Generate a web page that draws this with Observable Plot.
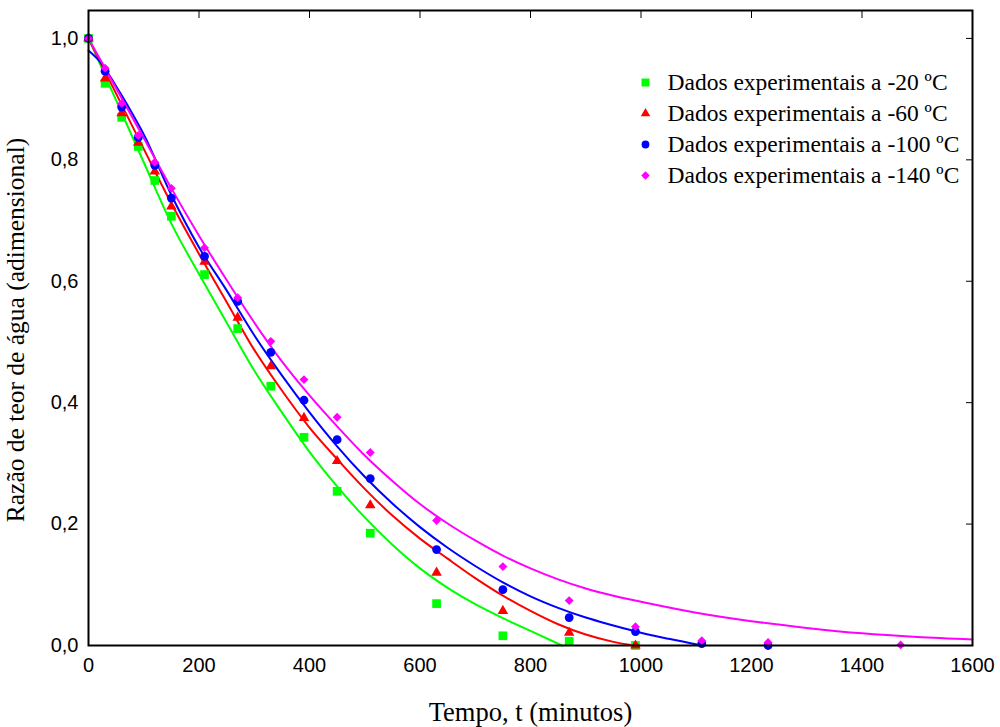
<!DOCTYPE html>
<html><head><meta charset="utf-8">
<script src="https://cdn.jsdelivr.net/npm/d3@7"></script>
<script src="https://cdn.jsdelivr.net/npm/@observablehq/plot@0.6"></script>
<style>body{margin:0;background:#fff}</style>
</head><body><div id="chart"></div>
<script>
// experimental data
const tGreen = [0,30,60,90,120,150,210,270,330,390,450,510,630,750,870,990];
const vGreen = [1.0,0.926,0.870,0.822,0.766,0.707,0.611,0.522,0.427,0.343,0.254,0.185,0.069,0.016,0.007,0.0];
const tRed = [0,30,60,90,120,150,210,270,330,390,450,510,630,750,870,990];
const vRed = [1.0,0.934,0.877,0.828,0.781,0.723,0.632,0.540,0.460,0.375,0.304,0.231,0.120,0.057,0.021,0.0];
const tBlue = [0,30,60,90,120,150,210,270,330,390,450,510,630,750,870,990,1110,1230];
const vBlue = [1.0,0.946,0.887,0.837,0.791,0.737,0.641,0.567,0.483,0.404,0.339,0.275,0.158,0.092,0.046,0.023,0.003,0.0];
const tMag = [0,30,60,90,120,150,210,270,330,390,450,510,630,750,870,990,1110,1230,1470];
const vMag = [1.0,0.951,0.893,0.840,0.796,0.753,0.655,0.573,0.501,0.438,0.376,0.318,0.206,0.130,0.074,0.031,0.008,0.005,0.001];

// fitted curves
const ctGreen = [0,50,100,150,200,250,300,350,400,450,500,550,600,650,700,750,800,857];
const cvGreen = [1.0,0.898,0.796,0.695,0.612,0.532,0.453,0.384,0.319,0.262,0.211,0.166,0.127,0.095,0.068,0.045,0.024,0.0];
const ctRed = [0,50,100,150,200,250,300,350,400,450,500,550,600,650,700,750,800,850,900,950,987];
const cvRed = [1.0,0.909,0.818,0.728,0.645,0.566,0.487,0.420,0.359,0.307,0.258,0.214,0.176,0.143,0.111,0.082,0.057,0.035,0.018,0.006,0.0];
const ctBlue = [0,25,50,75,100,150,200,250,300,350,400,450,500,550,600,650,700,750,800,850,900,950,1000,1050,1111];
const cvBlue = [0.980,0.957,0.921,0.883,0.842,0.742,0.656,0.585,0.511,0.445,0.384,0.328,0.278,0.234,0.195,0.161,0.131,0.104,0.081,0.062,0.046,0.033,0.021,0.011,0.0];
const ctMag = [0,50,100,150,200,250,300,350,400,450,500,550,600,650,700,750,800,850,900,950,1000,1100,1200,1300,1400,1500,1600];
const cvMag = [1.0,0.918,0.836,0.753,0.675,0.602,0.532,0.468,0.412,0.361,0.313,0.271,0.233,0.201,0.173,0.148,0.127,0.109,0.094,0.082,0.072,0.054,0.040,0.029,0.020,0.014,0.010];

const seriesLabels = ["Dados experimentais a -20 ºC","Dados experimentais a -60 ºC","Dados experimentais a -100 ºC","Dados experimentais a -140 ºC"];
const seriesColors = ["#00ff00","#ff0000","#0000ff","#ff00ff"];
const seriesSymbols = ["square","triangle","circle","diamond2"];
const xTicks = [0,200,400,600,800,1000,1200,1400,1600];
const yTicks = [0,0.2,0.4,0.6,0.8,1.0];
const xLabel = "Tempo, t (minutos)";
const yLabel = "Razão de teor de água (adimensional)";

const pts = (ts, vs) => ts.map((t,i)=>({t, v: vs[i]}));
const pointSets = [pts(tGreen,vGreen), pts(tRed,vRed), pts(tBlue,vBlue), pts(tMag,vMag)];
const curveSets = [pts(ctGreen,cvGreen), pts(ctRed,cvRed), pts(ctBlue,cvBlue), pts(ctMag,cvMag)];
const pointR = [4.9, 3.9, 4.4, 4.0];
const legendR = [4.5, 3.5, 3.9, 3.8];
const serif = "Liberation Serif, Times New Roman, serif";

const marks = [];
curveSets.forEach((d,i)=>marks.push(Plot.line(d,{x:"t",y:"v",stroke:seriesColors[i],strokeWidth:2,curve:"monotone-x"})));
pointSets.forEach((d,i)=>marks.push(Plot.dot(d,{x:"t",y:"v",fill:seriesColors[i],stroke:"none",symbol:()=>seriesSymbols[i],r:pointR[i]})));
seriesLabels.forEach((lab,i)=>{
  marks.push(Plot.dot([lab],{frameAnchor:"top-left",dx:557,dy:72+31*i,fill:seriesColors[i],stroke:"none",symbol:()=>seriesSymbols[i],r:legendR[i]}));
  marks.push(Plot.text([lab],{text:d=>d,frameAnchor:"top-left",dx:579,dy:72+31*i,textAnchor:"start",lineAnchor:"middle",fontFamily:serif,fontSize:23.5,fill:"black"}));
});
marks.push(Plot.axisX({ticks:xTicks,tickSize:0,tickPadding:12,label:null,tickFormat:d=>String(d)}));
marks.push(Plot.axisY({ticks:yTicks,tickSize:0,tickPadding:10,label:null,tickFormat:d=>d.toFixed(1).replace(".",",")}));
marks.push(Plot.axisX({anchor:"top",ticks:xTicks,tickSize:-7,tickFormat:()=>"",label:null}));
marks.push(Plot.axisY({anchor:"right",ticks:yTicks,tickSize:-7,tickFormat:()=>"",label:null}));
marks.push(Plot.frame({stroke:"black",strokeWidth:2}));
marks.push(Plot.text([xLabel],{text:d=>d,frameAnchor:"bottom",dy:67,lineAnchor:"middle",fontFamily:serif,fontSize:26.5,fill:"black"}));
marks.push(Plot.text([yLabel],{text:d=>d,frameAnchor:"left",dx:-73,dy:2,rotate:-90,textAnchor:"middle",lineAnchor:"middle",fontFamily:serif,fontSize:25.5,fill:"black"}));

const chart = Plot.plot({
  width:1000, height:727,
  marginLeft:88, marginRight:28, marginTop:10, marginBottom:82,
  x:{domain:[0,1600]},
  y:{domain:[0,1.046]},
  style:{fontFamily:"Liberation Sans, Arial, sans-serif",fontSize:"20px",background:"white",color:"black"},
  marks
});
document.getElementById("chart").appendChild(chart);
</script></body></html>
